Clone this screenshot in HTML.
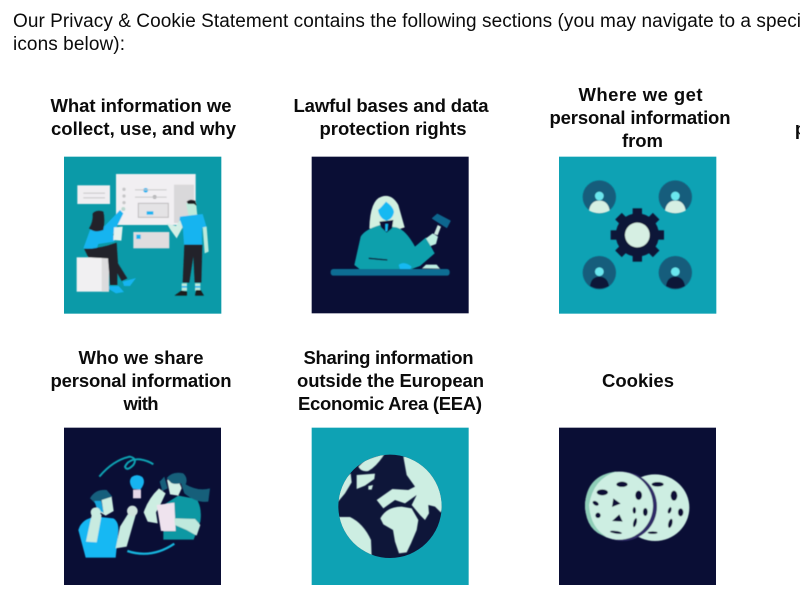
<!DOCTYPE html>
<html><head><meta charset="utf-8"><style>
html,body{margin:0;padding:0;background:#fff;width:800px;height:600px;overflow:hidden}
svg{display:block}
text{font-family:"Liberation Sans",sans-serif;fill:#0b0b0b}
.h{font-weight:bold;font-size:18.5px;text-anchor:middle}
.p{font-size:19px}
</style></head><body>
<svg width="800" height="600" viewBox="0 0 800 600" xmlns="http://www.w3.org/2000/svg">
<defs><filter id="b" x="-5%" y="-5%" width="110%" height="110%"><feGaussianBlur stdDeviation="1.2"/></filter>
<clipPath id="gc"><circle cx="255" cy="244" r="155"/></clipPath></defs>
<text class="p" x="13" y="27" textLength="788" lengthAdjust="spacing">Our Privacy &amp; Cookie Statement contains the following sections (you may navigate to a speci</text>
<text class="p" x="13" y="50" textLength="112" lengthAdjust="spacing">icons below):</text>

<text class="h" x="141" y="112" textLength="181" lengthAdjust="spacing">What information we</text>
<text class="h" x="143.500" y="135" textLength="185" lengthAdjust="spacing">collect, use, and why</text>
<text class="h" x="391" y="112" textLength="195" lengthAdjust="spacing">Lawful bases and data</text>
<text class="h" x="393" y="135" textLength="147" lengthAdjust="spacing">protection rights</text>
<text class="h" x="640.500" y="101" textLength="124" lengthAdjust="spacing">Where we get</text>
<text class="h" x="640" y="124" textLength="181" lengthAdjust="spacing">personal information</text>
<text class="h" x="642.500" y="147" textLength="41" lengthAdjust="spacing">from</text>
<text class="h" x="800.500" y="135">p</text>
<text class="h" x="141" y="364" textLength="125" lengthAdjust="spacing">Who we share</text>
<text class="h" x="141" y="387" textLength="181" lengthAdjust="spacing">personal information</text>
<text class="h" x="141" y="410" textLength="35" lengthAdjust="spacing">with</text>
<text class="h" x="388.500" y="364" textLength="170" lengthAdjust="spacing">Sharing information</text>
<text class="h" x="390.500" y="387" textLength="187" lengthAdjust="spacing">outside the European</text>
<text class="h" x="390" y="410" textLength="184" lengthAdjust="spacing">Economic Area (EEA)</text>
<text class="h" x="638" y="387" textLength="72" lengthAdjust="spacing">Cookies</text>

<!-- Tile 1 -->
<g transform="translate(40,150) scale(.33333)">
<rect x="72" y="20" width="472" height="471" fill="#0b9aa8"/>
<g filter="url(#b)">
<rect x="228" y="72" width="239" height="153" fill="#f1eff2"/>
<rect x="402" y="104" width="60" height="115" fill="#d9d8da"/>
<rect x="295" y="160" width="90" height="42" fill="#e4e3e5" stroke="#bdbcbe" stroke-width="3"/>
<circle cx="317" cy="121" r="7" fill="#14b4f0"/><circle cx="344" cy="141" r="6" fill="#b0b0b2"/>
<rect x="285" y="118" width="95" height="3" fill="#c8c8ca"/><rect x="285" y="140" width="95" height="3" fill="#c8c8ca"/>
<rect x="320" y="184" width="20" height="10" fill="#14b4f0"/>
<circle cx="252" cy="118" r="5" fill="#c6c6c8"/><circle cx="252" cy="138" r="5" fill="#c6c6c8"/><circle cx="252" cy="158" r="5" fill="#c6c6c8"/>
<rect x="112" y="106" width="98" height="56" fill="#f0eef1"/>
<rect x="130" y="128" width="65" height="3" fill="#c6c6c8"/><rect x="130" y="142" width="65" height="3" fill="#c6c6c8"/>
<rect x="280" y="246" width="108" height="49" fill="#dfdddf"/><rect x="289" y="254" width="13" height="13" fill="#14b4f0"/>
<rect x="110" y="322" width="97" height="103" fill="#f1f0f2"/><rect x="185" y="322" width="22" height="103" fill="#dcdbdd"/>
<!-- woman -->
<path d="M130 295 L150 240 L190 232 L240 180 L250 190 L218 255 L228 262 L222 275 L175 282 L170 296Z" fill="#14b4f0"/>
<path d="M158 190 Q172 178 190 185 Q196 210 190 240 Q165 250 147 235 Q160 215 158 190Z" fill="#23242a"/>
<path d="M132 296 Q175 298 230 278 L234 340 L262 385 L245 393 L232 370 L232 405 L210 405 L204 325 L145 322Z" fill="#23242a"/>
<path d="M208 408 L236 408 L252 426 L228 430 L208 418Z M248 395 L288 384 L270 408 L252 408Z" fill="#14b4f0"/>
<path d="M222 232 L248 230 L244 272 L220 270Z" fill="#e6f2ee"/>
<circle cx="250" cy="177" r="6" fill="#b9d8cf"/>
<!-- man -->
<path d="M438 160 L468 155 L472 198 L448 205Z" fill="#bdeadb"/>
<path d="M440 155 Q450 145 466 152 L470 168 L462 162 L444 162Z" fill="#1b1b20"/>
<path d="M420 200 L488 192 L500 232 L486 234 L486 284 L432 284 L428 228 L415 232Z" fill="#14b4f0"/>
<path d="M380 220 L408 228 L420 210 L428 232 L410 265 L392 240Z" fill="#d3efe5"/>
<path d="M488 232 L500 230 L506 305 L494 310Z" fill="#bdeadb"/>
<path d="M433 284 L487 284 L484 398 L464 398 L460 320 L448 398 L428 398Z" fill="#23242a"/>
<rect x="425" y="400" width="16" height="22" fill="#bdeadb"/><rect x="465" y="400" width="16" height="22" fill="#bdeadb"/>
<rect x="425" y="408" width="16" height="5" fill="#14b4f0"/><rect x="465" y="408" width="16" height="5" fill="#14b4f0"/>
<path d="M403 437 L424 422 L441 424 L441 437Z M465 437 L468 420 L482 420 L492 437Z" fill="#1a1a1f"/>
</g>
</g>

<!-- Tile 2 -->
<g transform="translate(300,150) scale(.33333)">
<rect x="35" y="20" width="471" height="470" fill="#0a0e35"/>
<g filter="url(#b)">
<path d="M208 235 Q210 150 245 140 Q275 130 295 165 L314 232 L290 240 L230 240Z" fill="#d2f0e0"/>
<path d="M163 345 L182 260 Q195 238 240 225 L290 232 Q318 240 345 290 L378 262 L404 310 L360 348 L332 358 L180 358Z" fill="#0ba0ac"/>
<path d="M238 215 L280 210 L276 235 L260 248 L243 232Z" fill="#0a0e35"/>
<path d="M258 155 Q280 170 282 186 Q278 208 258 212 Q238 204 234 180 Q244 172 258 155Z" fill="#12b9f2"/>
<path d="M256 222 L264 222 L262 244 L256 244Z" fill="#12b9f2"/>
<path d="M206 325 L262 330" stroke="#0a0e35" stroke-width="4" fill="none"/>
<path d="M378 265 L398 250 L414 260 L408 282 L392 288Z" fill="#bdeee0"/>
<path d="M402 252 L413 225 L423 230 L413 256Z" fill="#cde9e0"/>
<path d="M398 205 L412 193 L450 213 L440 232Z" fill="#11668f" stroke="#11668f" stroke-width="4" stroke-linejoin="round"/>
<path d="M296 345 Q312 332 335 350 L330 358 L300 358Z" fill="#12b9f2"/>
<path d="M366 355 L378 344 L410 344 L420 356Z" fill="#bff0e3"/>
<rect x="92" y="357" width="357" height="20" rx="8" fill="#0f6d93"/>
</g>
</g>

<!-- Tile 3 -->
<g transform="translate(550,150) scale(.33333)">
<rect x="27" y="20" width="472" height="471" fill="#0ea2b4"/>
<g filter="url(#b)">
<circle cx="148" cy="141" r="50" fill="#125d7c"/><circle cx="376" cy="141" r="50" fill="#125d7c"/>
<circle cx="148" cy="368" r="50" fill="#125d7c"/><circle cx="376" cy="368" r="50" fill="#125d7c"/>
<circle cx="148" cy="138" r="13" fill="#6be6ee"/><circle cx="376" cy="138" r="13" fill="#6be6ee"/>
<circle cx="148" cy="365" r="13" fill="#6be6ee"/><circle cx="376" cy="365" r="13" fill="#6be6ee"/>
<path d="M117 182 Q122 152 148 152 Q174 152 179 182 Q148 198 117 182Z" fill="#d6efe3"/>
<path d="M345 182 Q350 152 376 152 Q402 152 407 182 Q376 198 345 182Z" fill="#d6efe3"/>
<path d="M120 408 Q124 380 148 380 Q172 380 177 408 Q148 424 120 408Z" fill="#0f1438"/>
<path d="M348 408 Q352 380 376 380 Q400 380 405 408 Q376 424 348 408Z" fill="#0f1438"/>
<circle cx="262" cy="255" r="65" fill="#0f1438"/>
<g fill="#0f1438">
<rect x="248" y="175" width="28" height="160"/>
<rect x="182" y="241" width="160" height="28"/>
<rect x="248" y="175" width="28" height="160" transform="rotate(45 262 255)"/>
<rect x="248" y="175" width="28" height="160" transform="rotate(-45 262 255)"/>
</g>
<circle cx="262" cy="255" r="37" fill="#d6efe3"/>
</g>
</g>

<!-- Tile 4 -->
<g transform="translate(55,425) scale(.33333)">
<rect x="27" y="8" width="471" height="472" fill="#0a0e35"/>
<g filter="url(#b)">
<path d="M133 155 Q175 105 225 95 Q248 100 235 120 Q215 140 210 125 Q222 100 255 103 Q280 107 295 118" fill="none" stroke="#0ca3b3" stroke-width="6"/>
<path d="M217 378 Q290 402 358 356" fill="none" stroke="#13b4dc" stroke-width="7"/>
<path d="M234 192 Q218 170 230 156 Q246 145 262 156 Q274 172 256 194Z" fill="#14b4f0"/>
<rect x="234" y="194" width="24" height="26" fill="#e6d7e8"/>
<path d="M70 315 Q80 280 125 275 L175 280 Q192 290 190 320 L182 398 L92 398Z" fill="#14b8f3"/>
<path d="M120 250 Q104 256 110 270 L93 350 L125 352 L140 270Z" fill="#c8ebe0"/>
<path d="M182 370 L195 305 L218 268 L235 268 L245 260 L215 365 Z" fill="#c8ebe0"/>
<circle cx="232" cy="258" r="16" fill="#cfe3dd"/>
<path d="M130 225 L170 215 L176 258 L152 272 L135 262Z" fill="#cdeee2"/>
<path d="M105 220 Q120 192 155 195 L172 215 L140 225 L146 265 L125 240Z" fill="#135e7c"/>
<path d="M118 228 L138 228 L146 262 L128 258Z" fill="#14a8e0"/>
<circle cx="122" cy="262" r="15" fill="#c8ebe0"/>
<path d="M325 240 L370 212 L425 222 Q442 250 436 290 L416 344 L325 344Z" fill="#0f98a3"/>
<path d="M266 262 Q280 220 312 190 L332 205 L318 235 L303 262 L308 295 L278 290Z" fill="#cdeee2"/>
<path d="M305 240 L358 233 L362 318 L318 318Z" fill="#efe3ee"/>
<path d="M358 280 L420 282 L436 300 L425 332 L395 315 L360 300Z" fill="#bfe9dd"/>
<path d="M336 165 Q370 155 380 190 L370 212 L345 208 Z" fill="#d3f0e6"/>
<path d="M335 160 Q350 138 385 145 Q400 160 392 178 Q430 200 465 190 L460 230 Q425 235 388 205 L378 175 Q350 180 345 170Z" fill="#125f7a"/>
<path d="M314 170 L328 155 L338 190 L322 198Z" fill="#125f7a"/>
</g>
</g>

<!-- Tile 5 -->
<g transform="translate(305,425) scale(.33333)">
<rect x="20" y="8" width="471" height="472" fill="#0ea2b4"/>
<circle cx="255" cy="244" r="155" fill="#0e1639"/>
<g fill="#cdeee2" clip-path="url(#gc)" filter="url(#b)">
<path d="M160 125 L180 105 L240 85 Q215 125 190 138 Q168 142 160 125Z"/>
<path d="M137 145 L140 172 L120 205 L95 235 L90 180Z"/>
<path d="M155 150 L210 146 L208 162 L180 182 L155 192Z"/>
<path d="M190 183 L204 180 L200 194 L190 194Z"/>
<path d="M295 95 L305 150 L330 185 L310 195 L262 192 L215 225 L235 250 L270 225 L300 235 L335 210 L320 240 L345 270 L360 285 L372 265 L370 240 L390 245 L408 263 L430 200 L400 90Z"/>
<path d="M226 280 Q245 245 290 245 L320 250 L340 285 L335 315 L318 355 L305 382 L282 385 L270 350 L264 315 L235 298Z"/>
<path d="M95 276 L135 276 Q175 295 198 345 L200 395 L110 340Z"/>
</g>
</g>

<!-- Tile 6 -->
<g transform="translate(550,425) scale(.33333)">
<rect x="27" y="8" width="471" height="472" fill="#0a0e35"/>
<g filter="url(#b)">
<ellipse cx="315" cy="248" rx="103" ry="100" fill="#cdeee2"/>
<circle cx="217" cy="244" r="104" fill="#2e2a66"/>
<circle cx="207" cy="242" r="102" fill="#cdeee2"/>
<path d="M105 242 Q108 150 200 139 Q130 160 117 240 Q122 310 170 335 Q108 320 105 242Z" fill="#8fceb8"/>
<g fill="#0a0e35">
<ellipse cx="157" cy="202" rx="17" ry="9"/>
<ellipse cx="216" cy="178" rx="17" ry="8"/>
<ellipse cx="266" cy="211" rx="10" ry="14"/>
<ellipse cx="137" cy="235" rx="10" ry="6" transform="rotate(30 137 235)"/>
<path d="M190 220 L212 236 L186 246Z"/>
<ellipse cx="144" cy="271" rx="8" ry="8"/>
<path d="M186 288 L208 268 L218 290Z"/>
<ellipse cx="253" cy="256" rx="5" ry="10"/>
<ellipse cx="286" cy="261" rx="7" ry="12"/>
<ellipse cx="255" cy="293" rx="5" ry="14" transform="rotate(15 255 293)"/>
<ellipse cx="198" cy="322" rx="18" ry="4" transform="rotate(8 198 322)"/>
<ellipse cx="323" cy="178" rx="18" ry="7"/>
<ellipse cx="372" cy="212" rx="10" ry="15"/>
<ellipse cx="392" cy="262" rx="8" ry="12"/>
<ellipse cx="359" cy="256" rx="5" ry="10" transform="rotate(20 359 256)"/>
<ellipse cx="361" cy="295" rx="6" ry="14" transform="rotate(15 361 295)"/>
<ellipse cx="308" cy="323" rx="15" ry="4"/>
</g>
</g>
</g>
</svg>
</body></html>
